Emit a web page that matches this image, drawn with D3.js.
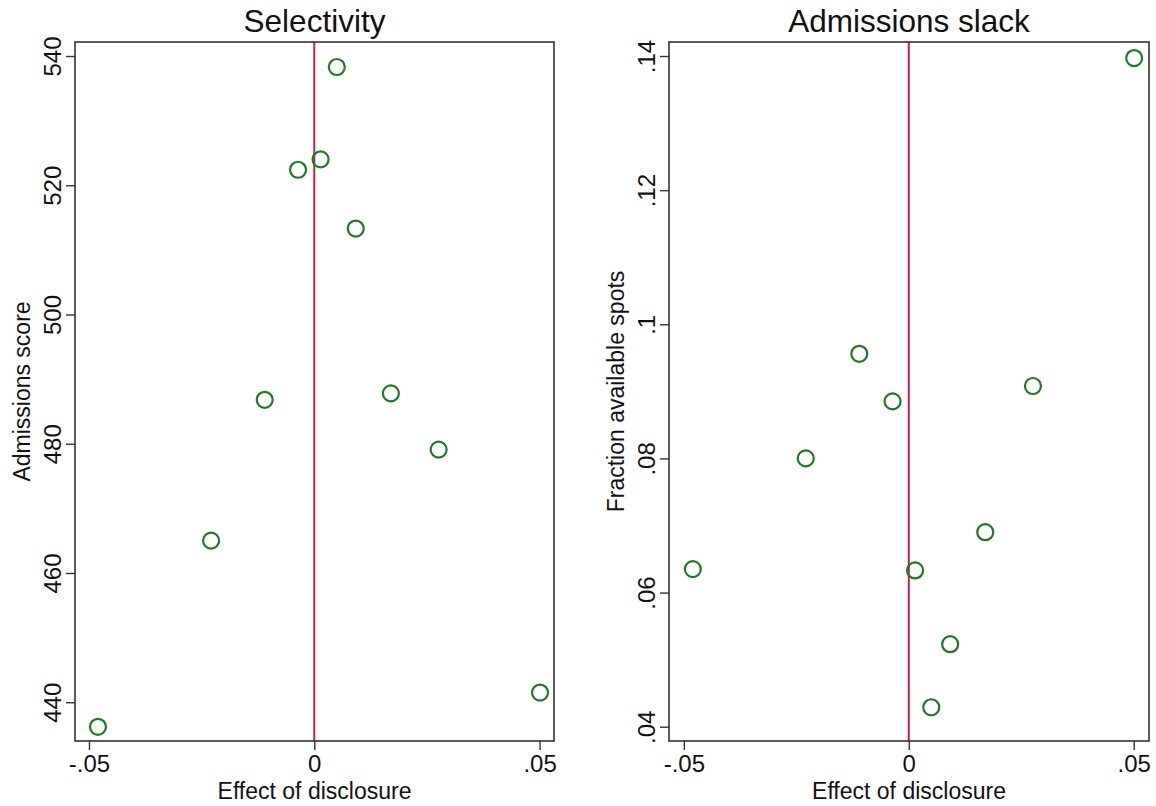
<!DOCTYPE html>
<html>
<head>
<meta charset="utf-8">
<script src="https://cdn.jsdelivr.net/npm/d3@7"></script>
<style>
  html, body { margin: 0; padding: 0; background: #fff; }
  svg text { font-family: "Liberation Sans", Arial, sans-serif; fill: #111; }
</style>
</head>
<body>
<svg id="chart" width="1156" height="806"></svg>
<script>
// ---- data ----
const effectOfDisclosure = [-0.0480, -0.0229, -0.0110, -0.0036, 0.0014, 0.0050, 0.0092, 0.0170, 0.0276, 0.0501];
const admissionsScore   = [436.2, 465.0, 486.8, 522.4, 524.0, 538.3, 513.3, 487.8, 479.1, 441.5];
const fractionAvailable = [0.0635, 0.0800, 0.0956, 0.0885, 0.0633, 0.0429, 0.0523, 0.0690, 0.0908, 0.1397];

const xTickValues = [-0.05, 0, 0.05];
const xTickLabels = ["-.05", "0", ".05"];
const scoreTickValues = [440, 460, 480, 500, 520, 540];
const scoreTickLabels = ["440", "460", "480", "500", "520", "540"];
const fracTickValues = [0.04, 0.06, 0.08, 0.10, 0.12, 0.14];
const fracTickLabels = [".04", ".06", ".08", ".1", ".12", ".14"];

const panelTitles = ["Selectivity", "Admissions slack"];
const xTitle = "Effect of disclosure";
const yTitles = ["Admissions score", "Fraction available spots"];

// ---- layout ----
const svg = d3.select("#chart");
const panels = [
  { title: panelTitles[0], yTitle: yTitles[0], ys: admissionsScore,
    x0: 75, x1: 554, xDom: [-0.0531, 0.0532], yDom: [434.0, 542.17],
    yTicks: scoreTickValues, yLabels: scoreTickLabels },
  { title: panelTitles[1], yTitle: yTitles[1], ys: fractionAvailable,
    x0: 669, x1: 1149, xDom: [-0.0533, 0.0534], yDom: [0.03787, 0.14209],
    yTicks: fracTickValues, yLabels: fracTickLabels }
];
const plotTop = 42, plotBottom = 741;

panels.forEach(p => {
  const x = d3.scaleLinear().domain(p.xDom).range([p.x0, p.x1]);
  const y = d3.scaleLinear().domain(p.yDom).range([plotBottom, plotTop]);
  const g = svg.append("g");

  // x axis
  const xAxis = d3.axisBottom(x).tickValues(xTickValues)
    .tickFormat((d, i) => xTickLabels[i]).tickSize(9).tickPadding(5).tickSizeOuter(0);
  const gx = g.append("g").attr("transform", `translate(0,${plotBottom})`).call(xAxis);
  gx.select(".domain").remove();
  gx.selectAll(".tick line").attr("stroke", "#333").attr("stroke-width", 1.4);
  gx.selectAll(".tick text").style("font-size", "24px").attr("fill", "#111")
    .attr("font-family", "Liberation Sans, Arial, sans-serif");

  // y axis
  const yAxis = d3.axisLeft(y).tickValues(p.yTicks)
    .tickFormat((d, i) => p.yLabels[i]).tickSize(9).tickPadding(0).tickSizeOuter(0);
  const gy = g.append("g").attr("transform", `translate(${p.x0},0)`).call(yAxis);
  gy.select(".domain").remove();
  gy.selectAll(".tick line").attr("stroke", "#333").attr("stroke-width", 1.4);
  gy.selectAll(".tick text")
    .attr("x", null).attr("dy", null)
    .attr("transform", "translate(-14,0) rotate(-90)")
    .attr("text-anchor", "middle")
    .style("font-size", "24px").attr("fill", "#111")
    .attr("font-family", "Liberation Sans, Arial, sans-serif");

  // zero reference line
  g.append("line")
    .attr("x1", x(0)).attr("x2", x(0)).attr("y1", plotTop).attr("y2", plotBottom)
    .attr("stroke", "#c2204c").attr("stroke-width", 2);

  // points
  g.append("g").selectAll("circle")
    .data(effectOfDisclosure.map((e, i) => [e, p.ys[i]]))
    .join("circle")
    .attr("cx", d => x(d[0])).attr("cy", d => y(d[1])).attr("r", 8)
    .attr("fill", "none").attr("stroke", "#1f7a24").attr("stroke-width", 2.2);

  // frame
  g.append("rect")
    .attr("x", p.x0).attr("y", plotTop).attr("width", p.x1 - p.x0).attr("height", plotBottom - plotTop)
    .attr("fill", "none").attr("stroke", "#333").attr("stroke-width", 1.6);

  // titles
  g.append("text").attr("x", (p.x0 + p.x1) / 2).attr("y", 32)
    .attr("text-anchor", "middle").style("font-size", "31.5px").text(p.title);
  g.append("text").attr("x", (p.x0 + p.x1) / 2).attr("y", 799)
    .attr("text-anchor", "middle").style("font-size", "23px").text(xTitle);
  g.append("text")
    .attr("transform", `translate(${p.x0 - 45},${(plotTop + plotBottom) / 2}) rotate(-90)`)
    .attr("text-anchor", "middle").style("font-size", "23px").text(p.yTitle);
});
</script>
</body>
</html>
